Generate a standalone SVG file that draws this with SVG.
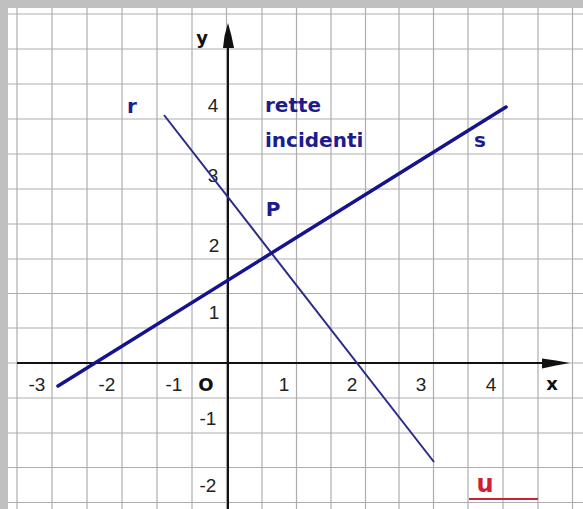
<svg xmlns="http://www.w3.org/2000/svg" width="583" height="509" viewBox="0 0 583 509">
<style>
.grid line{stroke:#adadad;stroke-width:1.2}
.tick{font-family:"Liberation Sans",Arial,sans-serif;font-size:19px;fill:#222;text-anchor:middle}
.lbl{font-family:"DejaVu Sans",Verdana,sans-serif;font-weight:bold;font-size:20px;fill:#1c1c8e;text-anchor:middle}
.title{font-family:"DejaVu Sans",Verdana,sans-serif;font-weight:bold;font-size:20px;fill:#1c1c8e;text-anchor:start}
.ax{font-family:"DejaVu Sans",Verdana,sans-serif;font-weight:bold;font-size:18px;fill:#111;text-anchor:middle}
</style>
<rect x="0" y="0" width="583" height="509" fill="#ffffff"/>
<g class="grid" id="grid">
<line x1="17" y1="8" x2="17" y2="509"/><line x1="52" y1="8" x2="52" y2="509"/><line x1="87" y1="8" x2="87" y2="509"/><line x1="122" y1="8" x2="122" y2="509"/><line x1="157" y1="8" x2="157" y2="509"/><line x1="192" y1="8" x2="192" y2="509"/><line x1="226.5" y1="8" x2="226.5" y2="509"/><line x1="262" y1="8" x2="262" y2="509"/><line x1="296.5" y1="8" x2="296.5" y2="509"/><line x1="331" y1="8" x2="331" y2="509"/><line x1="365.5" y1="8" x2="365.5" y2="509"/><line x1="399" y1="8" x2="399" y2="509"/><line x1="433.5" y1="8" x2="433.5" y2="509"/><line x1="468" y1="8" x2="468" y2="509"/><line x1="503" y1="8" x2="503" y2="509"/><line x1="538" y1="8" x2="538" y2="509"/><line x1="572.5" y1="8" x2="572.5" y2="509"/>
<line x1="8" y1="14" x2="583" y2="14"/><line x1="8" y1="49" x2="583" y2="49"/><line x1="8" y1="84" x2="583" y2="84"/><line x1="8" y1="119" x2="583" y2="119"/><line x1="8" y1="154" x2="583" y2="154"/><line x1="8" y1="189" x2="583" y2="189"/><line x1="8" y1="224" x2="583" y2="224"/><line x1="8" y1="259" x2="583" y2="259"/><line x1="8" y1="293.5" x2="583" y2="293.5"/><line x1="8" y1="328" x2="583" y2="328"/><line x1="8" y1="363" x2="583" y2="363"/><line x1="8" y1="398" x2="583" y2="398"/><line x1="8" y1="433" x2="583" y2="433"/><line x1="8" y1="467.5" x2="583" y2="467.5"/><line x1="8" y1="502.5" x2="583" y2="502.5"/>
</g>
<rect x="0" y="0" width="583" height="8" fill="#c0c0c0"/>
<rect x="0" y="0" width="8" height="509" fill="#c0c0c0"/>
<g id="axes">
<line x1="17" y1="363" x2="544" y2="363" stroke="#111" stroke-width="2"/>
<polygon points="542,358.5 556,360.5 570,363 556,365.5 542,368.5" fill="#111"/>
<line x1="228" y1="46" x2="228" y2="509" stroke="#111" stroke-width="2"/>
<polygon points="223,48 224.5,36 228,23 231.5,36 234,48" fill="#111"/>
<text class="ax" x="202" y="44" font-size="20">y</text>
<text class="ax" x="552" y="390">x</text>
</g>
<g id="ticks">
<text class="tick" x="37" y="391">-3</text>
<text class="tick" x="107" y="391">-2</text>
<text class="tick" x="174" y="391">-1</text>
<text class="ax" x="206" y="391">O</text>
<text class="tick" x="284" y="391">1</text>
<text class="tick" x="352" y="391">2</text>
<text class="tick" x="421" y="391">3</text>
<text class="tick" x="491" y="391">4</text>
<text class="tick" x="213" y="112">4</text>
<text class="tick" x="213" y="182">3</text>
<text class="tick" x="214" y="252">2</text>
<text class="tick" x="214" y="319">1</text>
<text class="tick" x="208" y="425">-1</text>
<text class="tick" x="208" y="492">-2</text>
</g>
<g id="connectors">
<line id="line-r" x1="164" y1="115" x2="434" y2="462" stroke="#2a2a8a" stroke-width="2"/>
<line id="line-s" x1="58" y1="386" x2="506" y2="107" stroke="#14148f" stroke-width="3.5" stroke-linecap="round"/>
</g>
<g id="label-r"><text class="lbl" x="132" y="113">r</text></g>
<g id="label-s"><text class="lbl" x="480" y="147">s</text></g>
<g id="label-P"><text class="lbl" x="273" y="216">P</text></g>
<g id="label-title">
<text class="title" x="265" y="112">rette</text>
<text class="title" x="265" y="147">incidenti</text>
</g>
<g id="unit">
<text x="485" y="492" font-family="'DejaVu Sans',Verdana,sans-serif" font-weight="bold" font-size="24" fill="#cc2233" text-anchor="middle">u</text>
<line x1="469" y1="499" x2="538" y2="499" stroke="#cc2233" stroke-width="2"/>
</g>
</svg>
